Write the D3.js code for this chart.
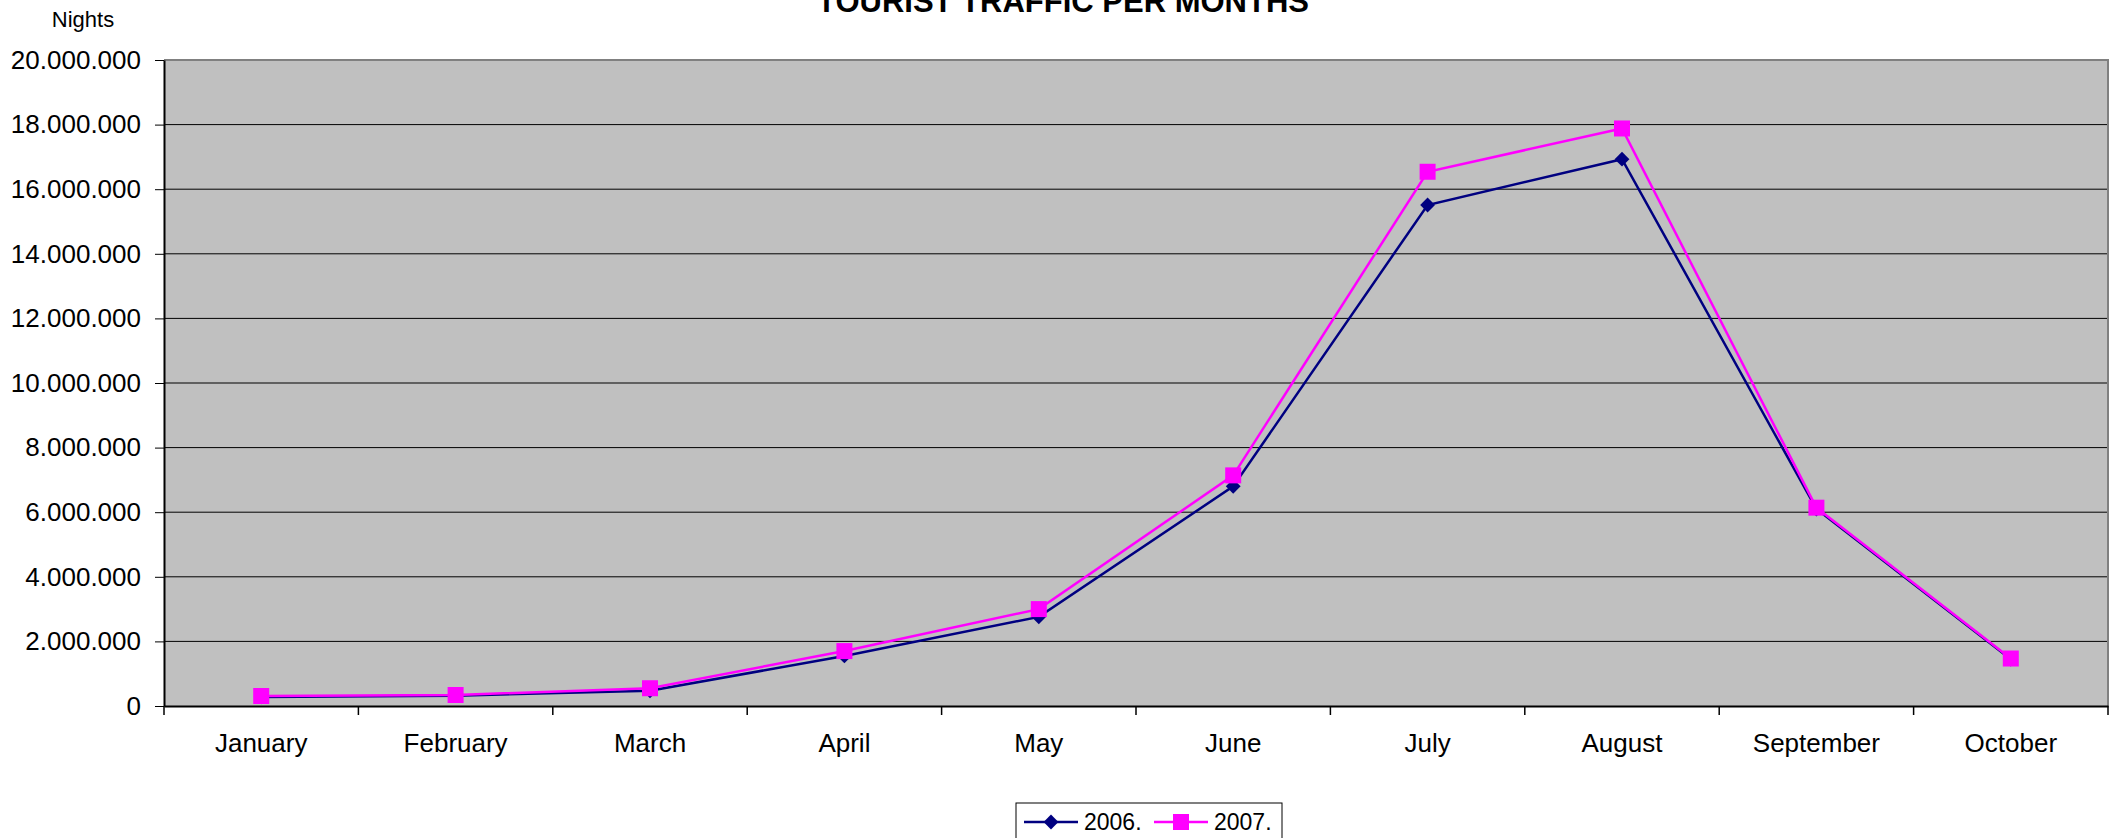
<!DOCTYPE html>
<html>
<head>
<meta charset="utf-8">
<script src="https://cdn.jsdelivr.net/npm/d3@7"></script>
<style>
  body { margin: 0; background: #fff; }
  svg { display: block; font-family: "Liberation Sans", Arial, sans-serif; }
</style>
</head>
<body>
<svg id="chart" width="2112" height="838"></svg>
<script>
const months = ["January", "February", "March", "April", "May", "June", "July", "August", "September", "October"];
const nights2006 = [280000, 320000, 470000, 1550000, 2760000, 6800000, 15510000, 16930000, 6100000, 1450000];
const nights2007 = [310000, 340000, 550000, 1700000, 3000000, 7140000, 16540000, 17880000, 6140000, 1470000];
const yTicks = [0, 2000000, 4000000, 6000000, 8000000, 10000000, 12000000, 14000000, 16000000, 18000000, 20000000];

const series = [
  {name: "2006.", values: nights2006, color: "#000080", marker: "diamond"},
  {name: "2007.", values: nights2007, color: "#FF00FF", marker: "square"}
];

const svg = d3.select("#chart");
const margin = {top: 60, right: 4, bottom: 132, left: 164};
const width = 2112, height = 838;

const locale = d3.formatLocale({decimal: ",", thousands: ".", grouping: [3], currency: ["", ""]});
const fmt = locale.format(",d");

const x = d3.scaleBand()
    .domain(months)
    .range([margin.left, width - margin.right]);

const y = d3.scaleLinear()
    .domain([0, 20000000])
    .range([height - margin.bottom, margin.top]);

// plot background
svg.append("rect")
    .attr("x", margin.left)
    .attr("y", margin.top)
    .attr("width", width - margin.right - margin.left)
    .attr("height", height - margin.bottom - margin.top)
    .attr("fill", "#C0C0C0");

// gridlines
svg.append("g")
    .selectAll("line")
    .data(yTicks.filter(d => d > 0 && d < 20000000))
    .join("line")
    .attr("x1", margin.left)
    .attr("x2", width - margin.right)
    .attr("y1", d => y(d))
    .attr("y2", d => y(d))
    .attr("stroke", "#000")
    .attr("stroke-width", 1);

// plot border (top / right in grey)
svg.append("path")
    .attr("d", `M${margin.left},${y(20000000)}H${width - margin.right}V${y(0)}`)
    .attr("fill", "none")
    .attr("stroke", "#808080")
    .attr("stroke-width", 2);

// y axis
const yAxis = svg.append("g")
    .attr("transform", `translate(${margin.left},0)`)
    .call(d3.axisLeft(y).tickValues(yTicks).tickFormat(fmt).tickSize(9).tickPadding(14).tickSizeOuter(0));
yAxis.select(".domain").attr("stroke", "#000").attr("stroke-width", 2);
yAxis.selectAll("text").attr("font-size", 26).attr("fill", "#000")
    .attr("font-family", "Liberation Sans, Arial, sans-serif");

// x axis
const xAxis = svg.append("g")
    .attr("transform", `translate(0,${y(0)})`)
    .call(d3.axisBottom(x).tickSize(0).tickPadding(28).tickSizeOuter(0));
xAxis.select(".domain").attr("stroke", "#000").attr("stroke-width", 2);
xAxis.selectAll("text").attr("font-size", 26).attr("fill", "#000")
    .attr("font-family", "Liberation Sans, Arial, sans-serif");

// x tick marks at band boundaries
const bounds = months.map(m => x(m)).concat([x(months[months.length - 1]) + x.bandwidth()]);
svg.append("g")
    .selectAll("line")
    .data(bounds)
    .join("line")
    .attr("x1", d => d)
    .attr("x2", d => d)
    .attr("y1", y(0))
    .attr("y2", y(0) + 9)
    .attr("stroke", "#000")
    .attr("stroke-width", 1.5);

// lines + markers
const line = d3.line()
    .x((d, i) => x(months[i]) + x.bandwidth() / 2)
    .y(d => y(d));

const squareSym = d3.symbol().type(d3.symbolSquare).size(256);
const diamondSym = d3.symbol().type(d3.symbolSquare).size(110);

series.forEach(s => {
  const g = svg.append("g");
  g.append("path")
      .datum(s.values)
      .attr("d", line)
      .attr("fill", "none")
      .attr("stroke", s.color)
      .attr("stroke-width", 2.5);
  g.selectAll("path.marker")
      .data(s.values)
      .join("path")
      .attr("class", "marker")
      .attr("d", s.marker === "square" ? squareSym : diamondSym)
      .attr("transform", (d, i) => `translate(${x(months[i]) + x.bandwidth() / 2},${y(d)})` + (s.marker === "diamond" ? " rotate(45)" : ""))
      .attr("fill", s.color);
});

// title
svg.append("text")
    .attr("x", 1063)
    .attr("y", 12)
    .attr("text-anchor", "middle")
    .attr("font-size", 31)
    .attr("font-weight", "bold")
    .text("TOURIST TRAFFIC PER MONTHS");

// y unit label
svg.append("text")
    .attr("x", 83)
    .attr("y", 27)
    .attr("text-anchor", "middle")
    .attr("font-size", 22)
    .text("Nights");

// legend
const legend = svg.append("g").attr("transform", "translate(1016,803)");
legend.append("rect")
    .attr("x", 0).attr("y", 0)
    .attr("width", 266).attr("height", 60)
    .attr("fill", "#fff")
    .attr("stroke", "#000")
    .attr("stroke-width", 1);

series.forEach((s, i) => {
  const ox = 8 + i * 130;
  const item = legend.append("g").attr("transform", `translate(${ox},19)`);
  item.append("line")
      .attr("x1", 0).attr("x2", 54)
      .attr("stroke", s.color).attr("stroke-width", 2.5);
  item.append("path")
      .attr("d", s.marker === "square" ? squareSym : diamondSym)
      .attr("transform", `translate(27,0)` + (s.marker === "diamond" ? " rotate(45)" : ""))
      .attr("fill", s.color);
  item.append("text")
      .attr("x", 60)
      .attr("y", 8)
      .attr("font-size", 23)
      .text(s.name);
});
</script>
</body>
</html>
